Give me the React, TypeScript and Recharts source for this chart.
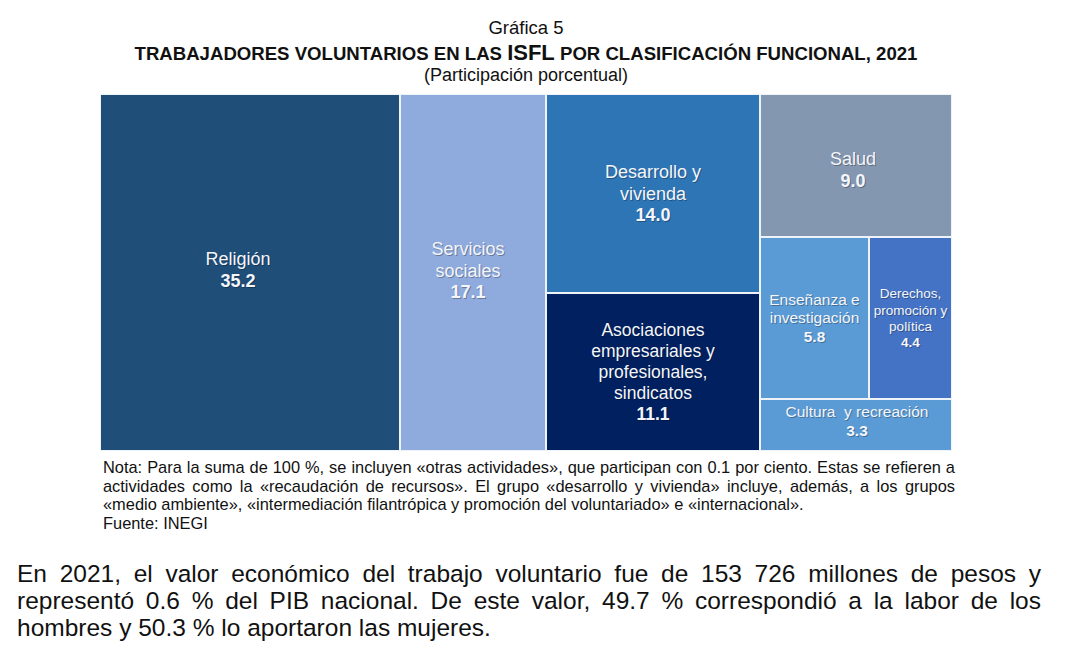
import React from "react";
import { Treemap } from "recharts";

// Funcional classification of volunteer workers, 2021 (percent)
const CATEGORIES = [
  "Religión",
  "Servicios sociales",
  "Desarrollo y vivienda",
  "Asociaciones empresariales y profesionales, sindicatos",
  "Salud",
  "Enseñanza e investigación",
  "Derechos, promoción y política",
  "Cultura y recreación",
];
const SHARES = [35.2, 17.1, 14.0, 11.1, 9.0, 5.8, 4.4, 3.3];
const LABEL_LINES = [
  ["Religión"],
  ["Servicios", "sociales"],
  ["Desarrollo y", "vivienda"],
  ["Asociaciones", "empresariales y", "profesionales,", "sindicatos"],
  ["Salud"],
  ["Enseñanza e", "investigación"],
  ["Derechos,", "promoción y", "política"],
  ["Cultura  y recreación"],
];
// how the tiles are grouped into blocks (indices into CATEGORIES)
const GROUPS: any[] = [0, 1, [2, 3], [4, [5, 6], 7]];

const COLORS = ["#1F4E79", "#8FAADC", "#2E75B6", "#002060", "#8497B0", "#5B9BD5", "#4472C4", "#5B9BD5"];
const FONT_SIZES = [18, 18, 18, 17.5, 18, 15.5, 13.5, 15.5];
const LABEL_DX = [-12, -5, 0, 0, -3, 0, 0, 1];
const LABEL_DY = [-3, -2, 0, 0, 4, 0, 0, -4];

const NOTE_LINES = [
  "Nota: Para la suma de 100 %, se incluyen «otras actividades», que participan con 0.1 por ciento. Estas se refieren a",
  "actividades como la «recaudación de recursos». El grupo «desarrollo y vivienda» incluye, además, a los grupos",
  "«medio ambiente», «intermediación filantrópica y promoción del voluntariado» e «internacional».",
  "Fuente: INEGI",
];
const TEXT_LINES = [
  "En 2021, el valor económico del trabajo voluntario fue de 153 726 millones de pesos y",
  "representó 0.6 % del PIB nacional. De este valor, 49.7 % correspondió a la labor de los",
  "hombres y 50.3 % lo aportaron las mujeres.",
];

const FONT = '"Liberation Sans", Arial, sans-serif';

function buildNode(spec: any, key: string): any {
  if (typeof spec === "number") return { name: CATEGORIES[spec], value: SHARES[spec] };
  return { name: key, children: spec.map((s: any, i: number) => buildNode(s, `${key}-${i}`)) };
}

const treeData = GROUPS.map((g, i) => buildNode(g, `grupo-${i}`));

function TreeCell(props: any) {
  const { x, y, width, height, name } = props;
  const idx = CATEGORIES.indexOf(name);
  if (idx < 0) return null;
  const fs = FONT_SIZES[idx];
  const lh = fs * 1.2;
  const lines = LABEL_LINES[idx];
  const n = lines.length + 1;
  const cx = x + width / 2 + LABEL_DX[idx];
  const top = y + height / 2 - ((n - 1) / 2) * lh + fs * 0.35 + LABEL_DY[idx];
  const rows = [...lines.map((t) => ({ t, bold: false })), { t: SHARES[idx].toFixed(1), bold: true }];
  return (
    <g>
      <rect x={x} y={y} width={width} height={height} fill={COLORS[idx]} stroke="#EEF3FA" strokeWidth={2} />
      {rows.map((r, i) => (
        <g key={i}>
          <text
            x={cx + 1}
            y={top + i * lh + 1}
            textAnchor="middle"
            fontSize={fs}
            fontFamily={FONT}
            fontWeight={r.bold ? "bold" : "normal"}
            fill="#000"
            fillOpacity={0.3}
            style={{ whiteSpace: "pre" }}
          >
            {r.t}
          </text>
          <text
            x={cx}
            y={top + i * lh}
            textAnchor="middle"
            fontSize={fs}
            fontFamily={FONT}
            fontWeight={r.bold ? "bold" : "normal"}
            fill="#F4F6FA"
            style={{ whiteSpace: "pre" }}
          >
            {r.t}
          </text>
        </g>
      ))}
    </g>
  );
}

function JustifiedLines({ lines, left, top, width, fontSize, lineHeight, openLines }: any) {
  return (
    <div style={{ position: "absolute", left, top, width, fontFamily: FONT, fontSize, lineHeight: `${lineHeight}px`, color: "#111" }}>
      {lines.map((l: string, i: number) => (
        <div
          key={i}
          style={{
            textAlign: "justify",
            textAlignLast: openLines.includes(i) ? "left" : "justify",
            whiteSpace: "nowrap",
          }}
        >
          {l}
        </div>
      ))}
    </div>
  );
}

export default function App() {
  return (
    <div style={{ position: "absolute", left: 0, top: 0, width: 1080, height: 669, background: "#fff", fontFamily: FONT, color: "#111" }}>
      <div style={{ position: "absolute", left: 100, width: 852, top: 17, textAlign: "center", fontSize: 18.5, lineHeight: "22px" }}>
        Gráfica 5
      </div>
      <div style={{ position: "absolute", left: 40, width: 972, top: 41, textAlign: "center", fontSize: 18.6, lineHeight: "24px", fontWeight: "bold", whiteSpace: "nowrap" }}>
        TRABAJADORES VOLUNTARIOS EN LAS <span style={{ fontSize: 22 }}>ISFL</span> POR CLASIFICACIÓN FUNCIONAL, 2021
      </div>
      <div style={{ position: "absolute", left: 100, width: 852, top: 64, textAlign: "center", fontSize: 18, lineHeight: "22px" }}>
        (Participación porcentual)
      </div>
      <div style={{ position: "absolute", left: 100, top: 94 }}>
        <Treemap
          width={852}
          height={357}
          data={treeData}
          dataKey="value"
          nameKey="name"
          aspectRatio={0.75}
          isAnimationActive={false}
          content={<TreeCell />}
        />
      </div>
      <JustifiedLines lines={NOTE_LINES} left={103} top={458} width={852} fontSize={16.4} lineHeight={18.7} openLines={[2, 3]} />
      <JustifiedLines lines={TEXT_LINES} left={17} top={560} width={1024} fontSize={24.5} lineHeight={27} openLines={[2]} />
    </div>
  );
}
